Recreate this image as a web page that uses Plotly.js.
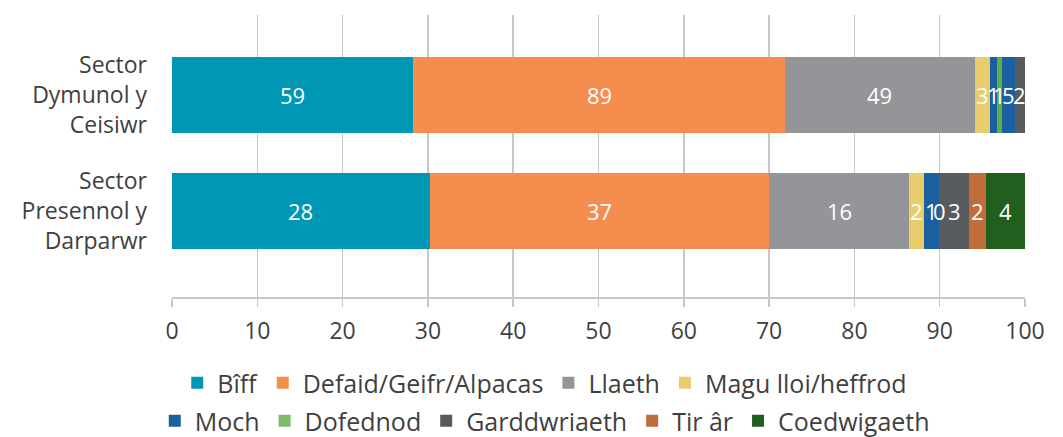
<!DOCTYPE html>
<html>
<head>
<meta charset="utf-8">
<script src="https://cdn.plot.ly/plotly-3.0.1.min.js"></script>
<style>html,body{margin:0;padding:0;background:#fff;}#chart{width:1063px;height:437px;}</style>
</head>
<body>
<div id="chart"></div>
<script>
// categories (bottom first, top last)
var categories = ['Sector<br>Presennol y<br>Darparwr', 'Sector<br>Dymunol y<br>Ceisiwr'];
var seriesNames = ['Bîff', 'Defaid/Geifr/Alpacas', 'Llaeth', 'Magu lloi/heffrod', 'Moch', 'Dofednod', 'Garddwriaeth', 'Tir âr', 'Coedwigaeth'];
// bar widths (percent of row): [bottom row, top row]
var biff = [30.2, 28.25];
var defaid = [39.8, 43.65];
var llaeth = [16.4, 22.2];
var magu = [1.76, 1.8];
var moch = [1.76, 0.8];
var dofednod = [0, 0.6];
var garddwriaeth = [3.52, 1.5];
var tirar = [2.0, 1.2];
var coedwig = [4.56, 0];
// count labels shown on the bars
var biffLbl = ['28', '59'];
var defaidLbl = ['37', '89'];
var llaethLbl = ['16', '49'];
var maguLbl = ['2', '3'];
var mochLbl = ['1', '1'];
var dofednodLbl = ['0', '1'];
var garddLbl = ['3', '5'];
var tirarLbl = ['2', '2'];
var coedwigLbl = ['4', ''];
var xTicks = [0, 10, 20, 30, 40, 50, 60, 70, 80, 90, 100];

var values = [biff, defaid, llaeth, magu, moch, dofednod, garddwriaeth, tirar, coedwig];
var labels = [biffLbl, defaidLbl, llaethLbl, maguLbl, mochLbl, dofednodLbl, garddLbl, tirarLbl, coedwigLbl];
var colors = [
  ['#0097b5', '#0097b5'],
  ['#f58d4f', '#f58d4f'],
  ['#939598', '#939598'],
  ['#e9cc6c', '#e9cc6c'],
  ['#1a5fa0', '#1a5fa0'],
  ['#7dbd69', '#5aaf45'],
  ['#585b5d', '#1a5fa0'],
  ['#bf6e3b', '#585b5d'],
  ['#215f1f', '#215f1f']
];

var font = '"Open Sans", Lato, sans-serif';
var traces = [];
for (var i = 0; i < seriesNames.length; i++) {
  traces.push({
    type: 'bar', orientation: 'h',
    name: seriesNames[i],
    y: categories, x: values[i],
    marker: {color: colors[i], line: {width: 0}},
    legend: i < 4 ? 'legend' : 'legend2',
    hoverinfo: 'x+name'
  });
}

var annotations = [];
for (var c = 0; c < categories.length; c++) {
  var cum = 0;
  for (var s = 0; s < seriesNames.length; s++) {
    var v = values[s][c];
    var t = labels[s][c];
    if (t !== '') {
      annotations.push({
        x: cum + v / 2, y: categories[c], xref: 'x', yref: 'y',
        text: t, showarrow: false,
        font: {family: font, size: 22, color: '#ffffff'}
      });
    }
    cum += v;
  }
}

var layout = {
  width: 1063, height: 437,
  margin: {l: 172, r: 38, t: 15, b: 140, autoexpand: false},
  paper_bgcolor: '#ffffff', plot_bgcolor: '#ffffff',
  barmode: 'stack', bargap: 0.345,
  font: {family: font, color: '#3f3f3f', size: 22},
  xaxis: {
    range: [0, 100], tickvals: xTicks, ticktext: xTicks.map(String),
    showgrid: true, gridcolor: '#c8c8c8', gridwidth: 1.5,
    showline: true, linecolor: '#c8c8c8', linewidth: 1.5,
    ticks: 'outside', ticklen: 8, tickcolor: '#c8c8c8', tickwidth: 1.5,
    zeroline: false, ticklabelstandoff: 5,
    tickfont: {family: font, size: 23, color: '#3f3f3f'}
  },
  yaxis: {
    type: 'category', categoryorder: 'array', categoryarray: categories,
    range: [-0.74, 1.69], showgrid: false, zeroline: false, showline: false,
    ticks: '', ticklabelstandoff: 24,
    tickfont: {family: font, size: 23, color: '#3f3f3f'}
  },
  showlegend: true,
  legend: {orientation: 'h', x: 0.437, xanchor: 'center', y: -0.305, yanchor: 'middle',
    font: {family: font, size: 25, color: '#3f3f3f'}, traceorder: 'normal', bgcolor: 'rgba(0,0,0,0)'},
  legend2: {orientation: 'h', x: 0.437, xanchor: 'center', y: -0.44, yanchor: 'middle',
    font: {family: font, size: 25, color: '#3f3f3f'}, traceorder: 'normal', bgcolor: 'rgba(0,0,0,0)'},
  annotations: annotations
};

Plotly.newPlot('chart', traces, layout, {displayModeBar: false, staticPlot: true});
</script>
</body>
</html>
